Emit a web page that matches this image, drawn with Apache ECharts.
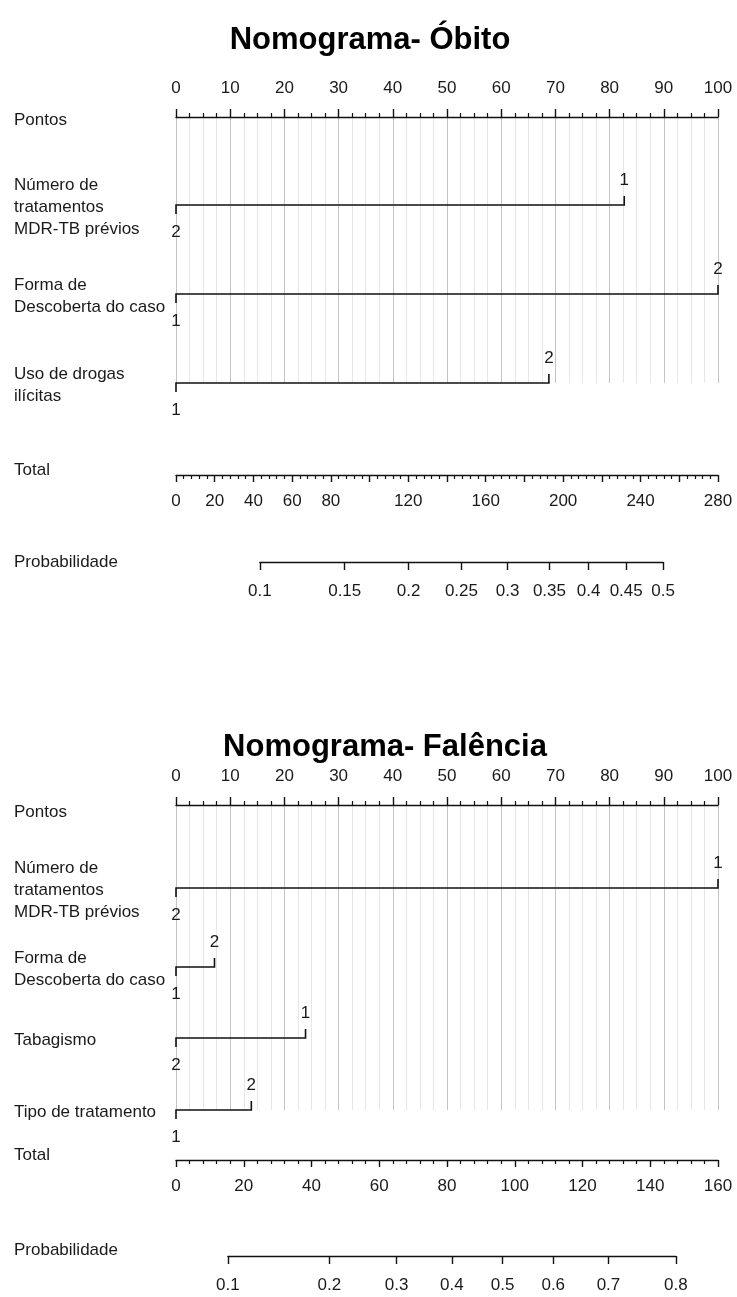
<!DOCTYPE html>
<html><head><meta charset="utf-8">
<script src="https://cdn.jsdelivr.net/npm/echarts@6/dist/echarts.min.js"></script>
<style>html,body{margin:0;padding:0;background:#fff}#c{width:737px;height:1297px}</style>
</head><body><div id="c"></div>
<script>
// ---------------- DATA ----------------
const titles = ['Nomograma- Óbito', 'Nomograma- Falência'];
const axisNames = ['Pontos', 'Total', 'Probabilidade'];
const pointsMax = 100;
const pointsInterval = 10;

// Óbito
const obitoVars = ['Número de\ntratamentos\nMDR-TB prévios', 'Forma de\nDescoberta do caso', 'Uso de drogas\nilícitas'];
const obitoLeftLevels = ['2', '1', '1'];
const obitoRightLevels = ['1', '2', '2'];
const obitoLeftPoints = [0, 0, 0];
const obitoRightPoints = [82.7, 100, 68.8];
const obitoTotalMax = 280;
const obitoTotalLabels = [0, 20, 40, 60, 80, 120, 160, 200, 240, 280];
const obitoProbTicks = [0.1, 0.15, 0.2, 0.25, 0.3, 0.35, 0.4, 0.45, 0.5];
const obitoTotalAtHalf = 251.6;   // total points at probability 0.5
const obitoTotalPerLogit = 94.8;  // total points per unit of logit

// Falência
const falenciaVars = ['Número de\ntratamentos\nMDR-TB prévios', 'Forma de\nDescoberta do caso', 'Tabagismo', 'Tipo de tratamento'];
const falenciaLeftLevels = ['2', '1', '2', '1'];
const falenciaRightLevels = ['1', '2', '1', '2'];
const falenciaLeftPoints = [0, 0, 0, 0];
const falenciaRightPoints = [100, 7.1, 23.9, 13.9];
const falenciaTotalMax = 160;
const falenciaTotalLabels = [0, 20, 40, 60, 80, 100, 120, 140, 160];
const falenciaProbTicks = [0.1, 0.2, 0.3, 0.4, 0.5, 0.6, 0.7, 0.8];
const falenciaTotalAtHalf = 96.4;
const falenciaTotalPerLogit = 36.9;

// ---------------- LAYOUT / STYLE ----------------
const W = 737;
const AX_L = 176, AX_R = 19, AX_W = W - AX_L - AX_R;
const FONT = '"Liberation Sans", Arial, Helvetica, sans-serif';
const FS = 17;
const TXT = '#1a1a1a';
const LINE = '#111';

const panels = [
  {
    title: titles[0], names: obitoVars, leftLevels: obitoLeftLevels, rightLevels: obitoRightLevels,
    leftPoints: obitoLeftPoints, rightPoints: obitoRightPoints, totalMax: obitoTotalMax,
    totalLabels: obitoTotalLabels, probTicks: obitoProbTicks, atHalf: obitoTotalAtHalf, perLogit: obitoTotalPerLogit,
    layout: { titleX: 370, titleY: 40, pointsY: 117, rowsY: [205, 294, 383], totalY: 475, probY: 562,
              nameY: [120, 470, 562] }
  },
  {
    title: titles[1], names: falenciaVars, leftLevels: falenciaLeftLevels, rightLevels: falenciaRightLevels,
    leftPoints: falenciaLeftPoints, rightPoints: falenciaRightPoints, totalMax: falenciaTotalMax,
    totalLabels: falenciaTotalLabels, probTicks: falenciaProbTicks, atHalf: falenciaTotalAtHalf, perLogit: falenciaTotalPerLogit,
    layout: { titleX: 385, titleY: 747, pointsY: 805, rowsY: [888, 967, 1038, 1110], totalY: 1160, probY: 1256,
              nameY: [812, 1155, 1250] }
  }
];

const logit = p => Math.log(p / (1 - p));
const expit = v => 1 / (1 + Math.exp(-v));

const grids = [], xAxes = [], yAxes = [], series = [], graphics = [];
const lblStyle = { fontFamily: FONT, fontSize: FS, color: TXT };
const axLine = { show: true, onZero: false, lineStyle: { color: LINE, width: 1.4 } };

panels.forEach(p => {
  const L = p.layout;
  // --- points grid (includes variable rows) ---
  const gP = grids.length;
  grids.push({ left: AX_L, right: AX_R, top: L.pointsY, height: L.rowsY[L.rowsY.length - 1] - L.pointsY, outerBoundsMode: 'none' });
  xAxes.push({
    gridIndex: gP, type: 'value', position: 'top', min: 0, max: pointsMax, interval: pointsInterval,
    axisLine: axLine,
    axisTick: { show: true, length: 8, lineStyle: { color: LINE, width: 1.4 } },
    minorTick: { show: true, splitNumber: 4, length: 4, lineStyle: { color: LINE, width: 1.2 } },
    axisLabel: Object.assign({ margin: 20 }, lblStyle),
    splitLine: { show: true, lineStyle: { color: '#c4c4c4', width: 1 } },
    minorSplitLine: { show: true, lineStyle: { color: '#e6e6e6', width: 1 } }
  });
  yAxes.push({ gridIndex: gP, type: 'value', min: 0, max: 1, show: false });

  series.push({
    type: 'custom', coordinateSystem: 'cartesian2d', xAxisIndex: gP, yAxisIndex: gP,
    silent: true, animation: false, clip: false,
    encode: { x: [0, 1], y: 2 },
    data: p.leftPoints.map((lp, i) => [lp, p.rightPoints[i], 0]),
    renderItem: (params, api) => {
      const i = params.dataIndex;
      const xL = api.coord([api.value(0), 0])[0];
      const xR = api.coord([api.value(1), 0])[0];
      const y = L.rowsY[i];
      const tk = 9;
      const ts = { fontFamily: FONT, fontSize: FS, fill: TXT };
      return {
        type: 'group', children: [
          { type: 'polyline', shape: { points: [[xL, y + tk], [xL, y], [xR, y], [xR, y - tk]] },
            style: { stroke: LINE, lineWidth: 1.6, fill: 'none' } },
          { type: 'text', style: Object.assign({ text: p.leftLevels[i], x: xL, y: y + 27, align: 'center', verticalAlign: 'middle' }, ts) },
          { type: 'text', style: Object.assign({ text: p.rightLevels[i], x: xR, y: y - 25, align: 'center', verticalAlign: 'middle' }, ts) },
          { type: 'text', style: Object.assign({ text: p.names[i], x: 14, y: y + 2, align: 'left', verticalAlign: 'middle', lineHeight: 22 }, ts) }
        ]
      };
    }
  });

  // --- total grid ---
  const gT = grids.length;
  grids.push({ left: AX_L, right: AX_R, top: L.totalY - 1, height: 1, outerBoundsMode: 'none' });
  xAxes.push({
    gridIndex: gT, type: 'value', position: 'bottom', min: 0, max: p.totalMax, interval: 20,
    axisLine: axLine,
    axisTick: { show: true, length: 7, lineStyle: { color: LINE, width: 1.4 } },
    minorTick: { show: true, splitNumber: 5, length: 4, lineStyle: { color: LINE, width: 1.2 } },
    axisLabel: Object.assign({ margin: 18, formatter: v => (p.totalLabels.indexOf(Math.round(v)) >= 0 ? String(Math.round(v)) : '') }, lblStyle),
    splitLine: { show: false }
  });
  yAxes.push({ gridIndex: gT, type: 'value', min: 0, max: 1, show: false });

  // --- probability grid (logit scale, aligned with total points) ---
  const gPr = grids.length;
  const lo = logit(p.probTicks[0]), hi = logit(p.probTicks[p.probTicks.length - 1]);
  const tLo = p.atHalf + p.perLogit * lo, tHi = p.atHalf + p.perLogit * hi;
  const left = AX_L + tLo / p.totalMax * AX_W;
  const width = (tHi - tLo) / p.totalMax * AX_W;
  grids.push({ left: left, width: width, top: L.probY - 1, height: 1, outerBoundsMode: 'none' });
  const lv = p.probTicks.map(logit);
  xAxes.push({
    gridIndex: gPr, type: 'value', position: 'bottom', min: lo, max: hi,
    axisLine: axLine,
    axisTick: { show: true, length: 8, customValues: lv, lineStyle: { color: LINE, width: 1.4 } },
    axisLabel: Object.assign({ margin: 21, customValues: lv, formatter: v => {
      const pr = expit(v);
      let best = p.probTicks[0];
      p.probTicks.forEach(t => { if (Math.abs(t - pr) < Math.abs(best - pr)) best = t; });
      return String(best);
    } }, lblStyle),
    splitLine: { show: false }
  });
  yAxes.push({ gridIndex: gPr, type: 'value', min: 0, max: 1, show: false });

  // --- titles and axis names ---
  graphics.push({ type: 'text', x: L.titleX, y: L.titleY, style: { text: p.title, align: 'center', verticalAlign: 'middle',
    fontFamily: FONT, fontSize: 31, fontWeight: 'bold', fill: '#000' } });
  axisNames.forEach((n, k) => {
    graphics.push({ type: 'text', x: 14, y: L.nameY[k], style: { text: n, align: 'left', verticalAlign: 'middle',
      fontFamily: FONT, fontSize: FS, fill: TXT } });
  });
});

const chart = echarts.init(document.getElementById('c'), null, { renderer: 'canvas' });
chart.setOption({
  backgroundColor: '#fff',
  animation: false,
  grid: grids, xAxis: xAxes, yAxis: yAxes, series: series, graphic: graphics
});
</script>
</body></html>
